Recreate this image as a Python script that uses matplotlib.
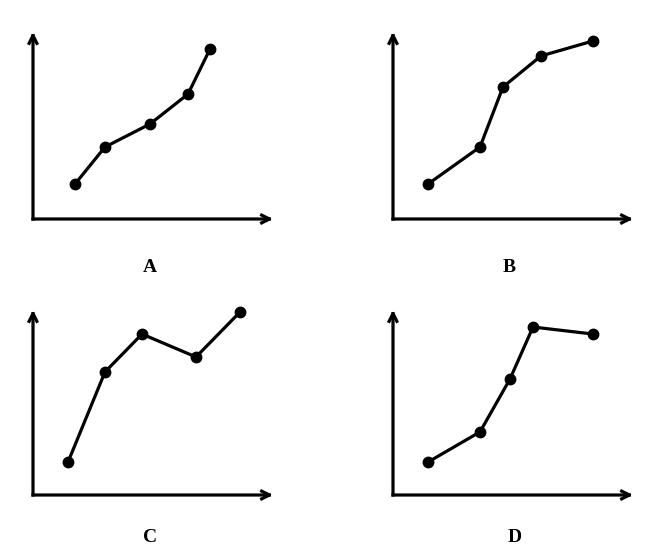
import matplotlib
matplotlib.use("Agg")
import matplotlib.pyplot as plt

W, H = 663, 558

# Panel labels
labels = ["A", "B", "C", "D"]

# Series values (x in axis units 0-12, y in axis units 0-10)
a_x = [2.1, 3.6, 5.85, 7.75, 8.85]
a_y = [1.87, 3.85, 5.08, 6.68, 9.09]

b_x = [1.75, 4.35, 5.5, 7.4, 10.0]
b_y = [1.87, 3.85, 7.06, 8.72, 9.52]

c_x = [1.75, 3.6, 5.45, 8.15, 10.35]
c_y = [1.78, 6.65, 8.7, 7.46, 9.89]

d_x = [1.75, 4.35, 5.85, 7.0, 10.0]
d_y = [1.78, 3.41, 6.27, 9.08, 8.7]

series = [(a_x, a_y), (b_x, b_y), (c_x, c_y), (d_x, d_y)]

# layout in pixels: (origin_x, origin_y, x_tip, y_tip)
panels = [(33, 219, 273, 32), (393, 219, 633, 32),
          (33, 495, 273, 310), (393, 495, 633, 310)]
label_pos = [(150, 267), (509, 267), (150, 537), (515, 537)]

fig = plt.figure(figsize=(W / 100, H / 100), dpi=100)
for (ox, oy, xt, yt), (xs, ys), lab, (lx, ly) in zip(panels, series, labels, label_pos):
    ax = fig.add_axes([ox / W, (H - oy) / H, (xt - ox) / W, (oy - yt) / H])
    ax.set_xlim(0, 12)
    ax.set_ylim(0, 10)
    ax.axis("off")
    ap = dict(arrowstyle="->", lw=2.3, color="black", mutation_scale=14,
              shrinkA=0, shrinkB=0, capstyle="projecting")
    ax.annotate("", xy=(12, 0), xytext=(0, 0), arrowprops=ap, annotation_clip=False)
    ax.annotate("", xy=(0, 10), xytext=(0, 0), arrowprops=ap, annotation_clip=False)
    ax.plot(xs, ys, color="black", lw=2.3, marker="o", markersize=7.5,
            clip_on=False, solid_joinstyle="miter")
    fig.text(lx / W, (H - ly) / H, lab, ha="center", va="center",
             fontsize=14, fontweight="bold", family="Liberation Serif")

fig.savefig("out.png", dpi=100)
